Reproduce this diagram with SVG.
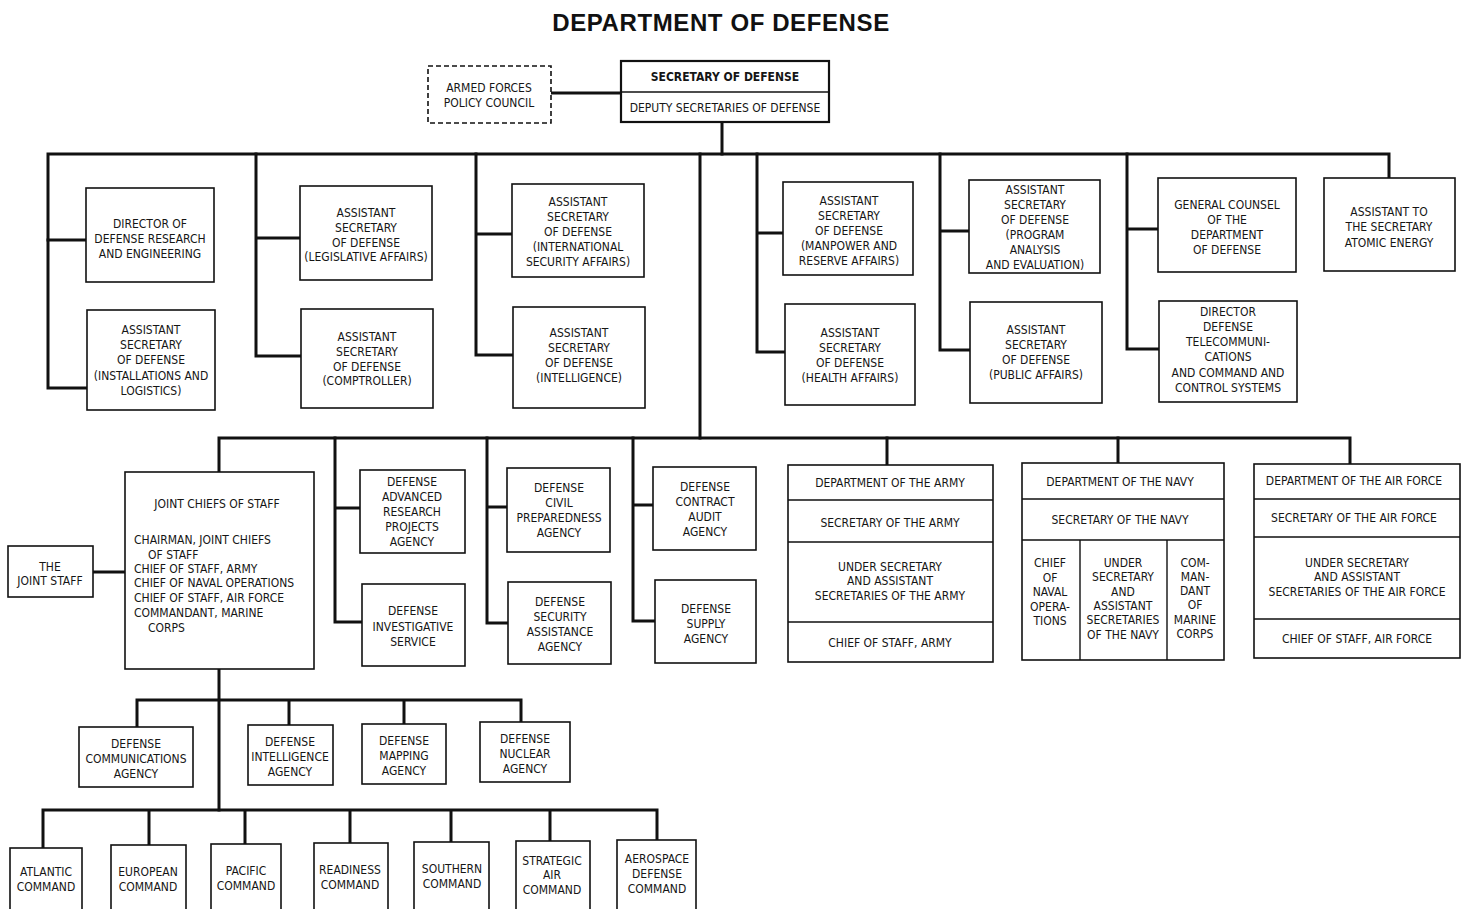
<svg xmlns="http://www.w3.org/2000/svg" width="1466" height="909" viewBox="0 0 1466 909">
  <style>
    .bg { fill: #ffffff; }
    .box { fill: #ffffff; stroke: #111111; stroke-width: 1.6; }
    .boxHeavy { fill: #ffffff; stroke: #111111; stroke-width: 2.2; }
    .dashed { fill: #ffffff; stroke: #111111; stroke-width: 1.6; stroke-dasharray: 5 3; }
    .div { stroke: #111111; stroke-width: 1.4; fill: none; }
    .wire { stroke: #111111; stroke-width: 3; fill: none; stroke-linejoin: miter; stroke-linecap: square; }
    .t { font-family: "Liberation Sans Narrow", "Arial Narrow", "DejaVu Sans Condensed", "Liberation Sans", sans-serif; font-size: 12px; fill: #151515; text-anchor: middle; }
    .tl { text-anchor: start; }
    .b { font-weight: bold; }
    .title { font-family: "Liberation Sans", Arial, sans-serif; font-size: 24px; font-weight: bold; letter-spacing: 0.6px; fill: #111111; text-anchor: middle; }
  </style>

  <rect class="bg" x="0" y="0" width="1466" height="909"/>

  <text class="title" x="721" y="31">DEPARTMENT OF DEFENSE</text>

  <!-- connecting lines -->
  <g id="connectors">
    <path class="wire" d="M551 93 H621"/>
    <path class="wire" d="M722 122 V154"/>
    <path class="wire" d="M87 388 H48 V154 H1389 V178"/>
    <path class="wire" d="M48 240 H86"/>
    <path class="wire" d="M256 154 V356 H301 M256 238 H300"/>
    <path class="wire" d="M476 154 V355 H513 M476 234 H512"/>
    <path class="wire" d="M700 154 V438"/>
    <path class="wire" d="M757 154 V352 H785 M757 233 H783"/>
    <path class="wire" d="M940 154 V350 H970 M940 231 H969"/>
    <path class="wire" d="M1127 154 V349 H1159 M1127 229 H1158"/>
    <path class="wire" d="M219 472 V438 H1350 V464"/>
    <path class="wire" d="M335 438 V622 H362 M335 508 H360"/>
    <path class="wire" d="M487 438 V623 H508 M487 507 H507"/>
    <path class="wire" d="M633 438 V621 H655 M633 505 H653"/>
    <path class="wire" d="M887 438 V465"/>
    <path class="wire" d="M1118 438 V463"/>
    <path class="wire" d="M93 572 H125"/>
    <path class="wire" d="M219 669 V810"/>
    <path class="wire" d="M137 727 V700 H521 V722 M289 700 V725 M404 700 V724"/>
    <path class="wire" d="M43 848 V810 H657 V840 M149 810 V845 M245 810 V844 M350 810 V843 M451 810 V842 M550 810 V841"/>
  </g>

  <!-- top level -->
  <g id="armed-forces-policy-council">
    <rect class="dashed" x="428" y="66" width="123" height="57"/>
    <text class="t"><tspan x="489" y="92">ARMED FORCES</tspan><tspan x="489" y="107">POLICY COUNCIL</tspan></text>
  </g>
  <g id="secretary-of-defense">
    <rect class="boxHeavy" x="621" y="61" width="208" height="61"/>
    <line class="div" x1="621" y1="92" x2="829" y2="92"/>
    <text class="t b" x="725" y="81">SECRETARY OF DEFENSE</text>
    <text class="t" x="725" y="112">DEPUTY SECRETARIES OF DEFENSE</text>
  </g>

  <g id="dir-research-engineering">
    <rect class="box" x="86" y="188" width="128" height="94"/>
    <text class="t"><tspan x="150" y="228">DIRECTOR OF</tspan><tspan x="150" y="243">DEFENSE RESEARCH</tspan><tspan x="150" y="258">AND ENGINEERING</tspan></text>
  </g>
  <g id="asd-installations-logistics">
    <rect class="box" x="87" y="310" width="128" height="100"/>
    <text class="t"><tspan x="151" y="334">ASSISTANT</tspan><tspan x="151" y="349">SECRETARY</tspan><tspan x="151" y="364">OF DEFENSE</tspan><tspan x="151" y="380">(INSTALLATIONS AND</tspan><tspan x="151" y="395">LOGISTICS)</tspan></text>
  </g>
  <g id="asd-legislative-affairs">
    <rect class="box" x="300" y="186" width="132" height="94"/>
    <text class="t"><tspan x="366" y="217">ASSISTANT</tspan><tspan x="366" y="232">SECRETARY</tspan><tspan x="366" y="247">OF DEFENSE</tspan><tspan x="366" y="261">(LEGISLATIVE AFFAIRS)</tspan></text>
  </g>
  <g id="asd-comptroller">
    <rect class="box" x="301" y="309" width="132" height="99"/>
    <text class="t"><tspan x="367" y="341">ASSISTANT</tspan><tspan x="367" y="356">SECRETARY</tspan><tspan x="367" y="371">OF DEFENSE</tspan><tspan x="367" y="385">(COMPTROLLER)</tspan></text>
  </g>
  <g id="asd-international-security">
    <rect class="box" x="512" y="184" width="132" height="93"/>
    <text class="t"><tspan x="578" y="206">ASSISTANT</tspan><tspan x="578" y="221">SECRETARY</tspan><tspan x="578" y="236">OF DEFENSE</tspan><tspan x="578" y="251">(INTERNATIONAL</tspan><tspan x="578" y="266">SECURITY AFFAIRS)</tspan></text>
  </g>
  <g id="asd-intelligence">
    <rect class="box" x="513" y="307" width="132" height="101"/>
    <text class="t"><tspan x="579" y="337">ASSISTANT</tspan><tspan x="579" y="352">SECRETARY</tspan><tspan x="579" y="367">OF DEFENSE</tspan><tspan x="579" y="382">(INTELLIGENCE)</tspan></text>
  </g>
  <g id="asd-manpower-reserve">
    <rect class="box" x="783" y="182" width="130" height="93"/>
    <text class="t"><tspan x="849" y="205">ASSISTANT</tspan><tspan x="849" y="220">SECRETARY</tspan><tspan x="849" y="235">OF DEFENSE</tspan><tspan x="849" y="250">(MANPOWER AND</tspan><tspan x="849" y="265">RESERVE AFFAIRS)</tspan></text>
  </g>
  <g id="asd-health-affairs">
    <rect class="box" x="785" y="304" width="130" height="101"/>
    <text class="t"><tspan x="850" y="337">ASSISTANT</tspan><tspan x="850" y="352">SECRETARY</tspan><tspan x="850" y="367">OF DEFENSE</tspan><tspan x="850" y="382">(HEALTH AFFAIRS)</tspan></text>
  </g>
  <g id="asd-program-analysis">
    <rect class="box" x="969" y="180" width="131" height="93"/>
    <text class="t"><tspan x="1035" y="194">ASSISTANT</tspan><tspan x="1035" y="209">SECRETARY</tspan><tspan x="1035" y="224">OF DEFENSE</tspan><tspan x="1035" y="239">(PROGRAM</tspan><tspan x="1035" y="254">ANALYSIS</tspan><tspan x="1035" y="269">AND EVALUATION)</tspan></text>
  </g>
  <g id="asd-public-affairs">
    <rect class="box" x="970" y="302" width="132" height="101"/>
    <text class="t"><tspan x="1036" y="334">ASSISTANT</tspan><tspan x="1036" y="349">SECRETARY</tspan><tspan x="1036" y="364">OF DEFENSE</tspan><tspan x="1036" y="379">(PUBLIC AFFAIRS)</tspan></text>
  </g>
  <g id="general-counsel">
    <rect class="box" x="1158" y="178" width="138" height="94"/>
    <text class="t"><tspan x="1227" y="209">GENERAL COUNSEL</tspan><tspan x="1227" y="224">OF THE</tspan><tspan x="1227" y="239">DEPARTMENT</tspan><tspan x="1227" y="254">OF DEFENSE</tspan></text>
  </g>
  <g id="dir-telecommunications">
    <rect class="box" x="1159" y="301" width="138" height="101"/>
    <text class="t"><tspan x="1228" y="316">DIRECTOR</tspan><tspan x="1228" y="331">DEFENSE</tspan><tspan x="1228" y="346">TELECOMMUNI-</tspan><tspan x="1228" y="361">CATIONS</tspan><tspan x="1228" y="377">AND COMMAND AND</tspan><tspan x="1228" y="392">CONTROL SYSTEMS</tspan></text>
  </g>
  <g id="atomic-energy">
    <rect class="box" x="1324" y="178" width="131" height="93"/>
    <text class="t"><tspan x="1389" y="216">ASSISTANT TO</tspan><tspan x="1389" y="231">THE SECRETARY</tspan><tspan x="1389" y="247">ATOMIC ENERGY</tspan></text>
  </g>

  <!-- second level -->
  <g id="the-joint-staff">
    <rect class="box" x="8" y="546" width="85" height="51"/>
    <text class="t"><tspan x="50" y="571">THE</tspan><tspan x="50" y="585">JOINT STAFF</tspan></text>
  </g>
  <g id="joint-chiefs-of-staff">
    <rect class="box" x="125" y="472" width="189" height="197"/>
    <text class="t" x="217" y="508">JOINT CHIEFS OF STAFF</text>
    <text class="t tl"><tspan x="134" y="544">CHAIRMAN, JOINT CHIEFS</tspan><tspan x="148" y="559">OF STAFF</tspan><tspan x="134" y="573">CHIEF OF STAFF, ARMY</tspan><tspan x="134" y="587">CHIEF OF NAVAL OPERATIONS</tspan><tspan x="134" y="602">CHIEF OF STAFF, AIR FORCE</tspan><tspan x="134" y="617">COMMANDANT, MARINE</tspan><tspan x="148" y="632">CORPS</tspan></text>
  </g>
  <g id="darpa">
    <rect class="box" x="360" y="470" width="105" height="83"/>
    <text class="t"><tspan x="412" y="486">DEFENSE</tspan><tspan x="412" y="501">ADVANCED</tspan><tspan x="412" y="516">RESEARCH</tspan><tspan x="412" y="531">PROJECTS</tspan><tspan x="412" y="546">AGENCY</tspan></text>
  </g>
  <g id="defense-investigative-service">
    <rect class="box" x="362" y="584" width="103" height="82"/>
    <text class="t"><tspan x="413" y="615">DEFENSE</tspan><tspan x="413" y="631">INVESTIGATIVE</tspan><tspan x="413" y="646">SERVICE</tspan></text>
  </g>
  <g id="defense-civil-preparedness">
    <rect class="box" x="507" y="468" width="103" height="84"/>
    <text class="t"><tspan x="559" y="492">DEFENSE</tspan><tspan x="559" y="507">CIVIL</tspan><tspan x="559" y="522">PREPAREDNESS</tspan><tspan x="559" y="537">AGENCY</tspan></text>
  </g>
  <g id="defense-security-assistance">
    <rect class="box" x="508" y="582" width="103" height="82"/>
    <text class="t"><tspan x="560" y="606">DEFENSE</tspan><tspan x="560" y="621">SECURITY</tspan><tspan x="560" y="636">ASSISTANCE</tspan><tspan x="560" y="651">AGENCY</tspan></text>
  </g>
  <g id="defense-contract-audit">
    <rect class="box" x="653" y="467" width="103" height="83"/>
    <text class="t"><tspan x="705" y="491">DEFENSE</tspan><tspan x="705" y="506">CONTRACT</tspan><tspan x="705" y="521">AUDIT</tspan><tspan x="705" y="536">AGENCY</tspan></text>
  </g>
  <g id="defense-supply-agency">
    <rect class="box" x="655" y="580" width="101" height="83"/>
    <text class="t"><tspan x="706" y="613">DEFENSE</tspan><tspan x="706" y="628">SUPPLY</tspan><tspan x="706" y="643">AGENCY</tspan></text>
  </g>

  <g id="department-of-the-army">
    <rect class="box" x="788" y="465" width="205" height="197"/>
    <path class="div" d="M788 500 H993 M788 542 H993 M788 622 H993"/>
    <text class="t" x="890" y="487">DEPARTMENT OF THE ARMY</text>
    <text class="t" x="890" y="527">SECRETARY OF THE ARMY</text>
    <text class="t"><tspan x="890" y="571">UNDER SECRETARY</tspan><tspan x="890" y="585">AND ASSISTANT</tspan><tspan x="890" y="600">SECRETARIES OF THE ARMY</tspan></text>
    <text class="t" x="890" y="647">CHIEF OF STAFF, ARMY</text>
  </g>
  <g id="department-of-the-navy">
    <rect class="box" x="1022" y="463" width="202" height="197"/>
    <path class="div" d="M1022 499 H1224 M1022 540 H1224 M1080 540 V660 M1167 540 V660"/>
    <text class="t" x="1120" y="486">DEPARTMENT OF THE NAVY</text>
    <text class="t" x="1120" y="524">SECRETARY OF THE NAVY</text>
    <text class="t"><tspan x="1050" y="567">CHIEF</tspan><tspan x="1050" y="582">OF</tspan><tspan x="1050" y="596">NAVAL</tspan><tspan x="1050" y="611">OPERA-</tspan><tspan x="1050" y="625">TIONS</tspan></text>
    <text class="t"><tspan x="1123" y="567">UNDER</tspan><tspan x="1123" y="581">SECRETARY</tspan><tspan x="1123" y="596">AND</tspan><tspan x="1123" y="610">ASSISTANT</tspan><tspan x="1123" y="624">SECRETARIES</tspan><tspan x="1123" y="639">OF THE NAVY</tspan></text>
    <text class="t"><tspan x="1195" y="567">COM-</tspan><tspan x="1195" y="581">MAN-</tspan><tspan x="1195" y="595">DANT</tspan><tspan x="1195" y="609">OF</tspan><tspan x="1195" y="624">MARINE</tspan><tspan x="1195" y="638">CORPS</tspan></text>
  </g>
  <g id="department-of-the-air-force">
    <rect class="box" x="1254" y="464" width="206" height="194"/>
    <path class="div" d="M1254 499 H1460 M1254 537 H1460 M1254 619 H1460"/>
    <text class="t" x="1354" y="485">DEPARTMENT OF THE AIR FORCE</text>
    <text class="t" x="1354" y="522">SECRETARY OF THE AIR FORCE</text>
    <text class="t"><tspan x="1357" y="567">UNDER SECRETARY</tspan><tspan x="1357" y="581">AND ASSISTANT</tspan><tspan x="1357" y="596">SECRETARIES OF THE AIR FORCE</tspan></text>
    <text class="t" x="1357" y="643">CHIEF OF STAFF, AIR FORCE</text>
  </g>

  <!-- agencies under the joint chiefs -->
  <g id="defense-communications-agency">
    <rect class="box" x="79" y="727" width="114" height="60"/>
    <text class="t"><tspan x="136" y="748">DEFENSE</tspan><tspan x="136" y="763">COMMUNICATIONS</tspan><tspan x="136" y="778">AGENCY</tspan></text>
  </g>
  <g id="defense-intelligence-agency">
    <rect class="box" x="248" y="725" width="85" height="60"/>
    <text class="t"><tspan x="290" y="746">DEFENSE</tspan><tspan x="290" y="761">INTELLIGENCE</tspan><tspan x="290" y="776">AGENCY</tspan></text>
  </g>
  <g id="defense-mapping-agency">
    <rect class="box" x="362" y="724" width="84" height="60"/>
    <text class="t"><tspan x="404" y="745">DEFENSE</tspan><tspan x="404" y="760">MAPPING</tspan><tspan x="404" y="775">AGENCY</tspan></text>
  </g>
  <g id="defense-nuclear-agency">
    <rect class="box" x="480" y="722" width="90" height="60"/>
    <text class="t"><tspan x="525" y="743">DEFENSE</tspan><tspan x="525" y="758">NUCLEAR</tspan><tspan x="525" y="773">AGENCY</tspan></text>
  </g>

  <!-- unified and specified commands -->
  <g id="atlantic-command">
    <rect class="box" x="10" y="848" width="72" height="80"/>
    <text class="t"><tspan x="46" y="876">ATLANTIC</tspan><tspan x="46" y="891">COMMAND</tspan></text>
  </g>
  <g id="european-command">
    <rect class="box" x="111" y="845" width="75" height="80"/>
    <text class="t"><tspan x="148" y="876">EUROPEAN</tspan><tspan x="148" y="891">COMMAND</tspan></text>
  </g>
  <g id="pacific-command">
    <rect class="box" x="211" y="844" width="70" height="80"/>
    <text class="t"><tspan x="246" y="875">PACIFIC</tspan><tspan x="246" y="890">COMMAND</tspan></text>
  </g>
  <g id="readiness-command">
    <rect class="box" x="314" y="843" width="74" height="80"/>
    <text class="t"><tspan x="350" y="874">READINESS</tspan><tspan x="350" y="889">COMMAND</tspan></text>
  </g>
  <g id="southern-command">
    <rect class="box" x="414" y="842" width="75" height="80"/>
    <text class="t"><tspan x="452" y="873">SOUTHERN</tspan><tspan x="452" y="888">COMMAND</tspan></text>
  </g>
  <g id="strategic-air-command">
    <rect class="box" x="516" y="841" width="74" height="80"/>
    <text class="t"><tspan x="552" y="865">STRATEGIC</tspan><tspan x="552" y="879">AIR</tspan><tspan x="552" y="894">COMMAND</tspan></text>
  </g>
  <g id="aerospace-defense-command">
    <rect class="box" x="617" y="840" width="79" height="80"/>
    <text class="t"><tspan x="657" y="863">AEROSPACE</tspan><tspan x="657" y="878">DEFENSE</tspan><tspan x="657" y="893">COMMAND</tspan></text>
  </g>
</svg>
